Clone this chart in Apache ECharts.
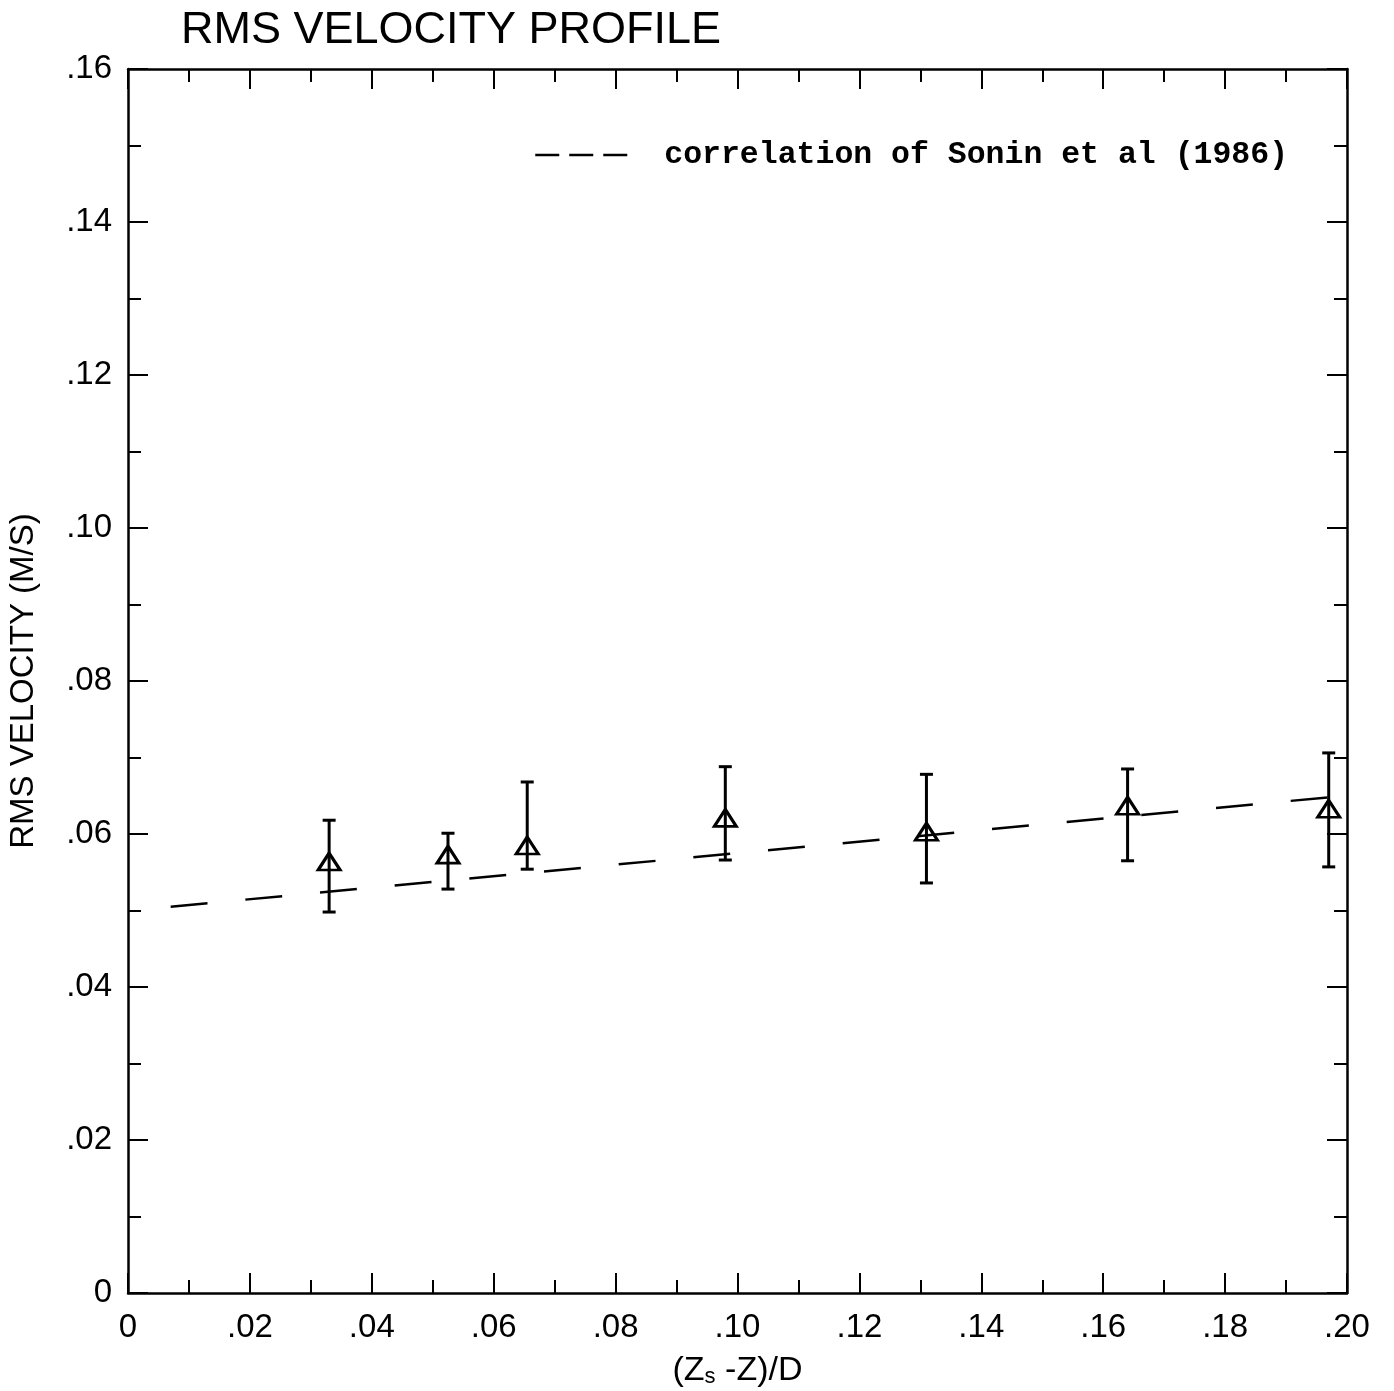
<!DOCTYPE html>
<html>
<head>
<meta charset="utf-8">
<script src="https://cdn.jsdelivr.net/npm/echarts@6/dist/echarts.min.js"></script>
<style>
  html, body { margin: 0; padding: 0; background: #fff; }
  #chart { width: 1394px; height: 1391px; }
</style>
</head>
<body>
<div id="chart"></div>
<script>
// Measured RMS velocity at each depth position
const depthRatio = [0.033, 0.0525, 0.0655, 0.098, 0.131, 0.164, 0.197];
const rmsMean    = [0.0564, 0.0573, 0.0585, 0.0621, 0.0603, 0.0637, 0.0633];
const rmsLow     = [0.0498, 0.0528, 0.0554, 0.0566, 0.0536, 0.0565, 0.0557];
const rmsHigh    = [0.0618, 0.0601, 0.0668, 0.0688, 0.0678, 0.0685, 0.0706];

// Correlation of Sonin et al (1986), end points of the straight line
const soninX = [0.007, 0.197];
const soninY = [0.0505, 0.0648];

const soninName = 'correlation of Sonin et al (1986)';
const titleText = 'RMS VELOCITY PROFILE';
const yName = 'RMS VELOCITY (M/S)';

const FONT = 'Liberation Sans';
const INK = '#000';

const tickLabel = v => (Math.abs(v) < 1e-9 ? '0' : v.toFixed(2).replace(/^0/, ''));

const axisCommon = {
  type: 'value',
  axisLine: { show: true, onZero: false, lineStyle: { color: INK, width: 2.5 } },
  axisTick: { show: true, inside: true, length: 20, lineStyle: { color: INK, width: 2 } },
  minorTick: { show: true, splitNumber: 2, length: 13, lineStyle: { color: INK, width: 2 } },
  splitLine: { show: false },
  minorSplitLine: { show: false }
};

const chart = echarts.init(document.getElementById('chart'), null, { renderer: 'canvas' });

chart.setOption({
  backgroundColor: '#fff',
  animation: false,
  title: {
    text: titleText,
    left: 176,
    top: 3,
    textStyle: { fontFamily: FONT, fontSize: 45, fontWeight: 'normal', color: INK }
  },
  legend: {
    data: [soninName],
    left: 529,
    top: 134,
    itemWidth: 92,
    itemHeight: 14,
    itemGap: 0,
    itemStyle: { color: 'rgba(0,0,0,0)', borderWidth: 0, opacity: 0 },
    lineStyle: { type: [24, 10], width: 2.5, color: INK, opacity: 1 },
    textStyle: {
      fontFamily: 'Liberation Mono', fontWeight: 'bold', fontSize: 31.5, color: INK,
      padding: [0, 0, 0, 32]
    }
  },
  grid: { left: 128, top: 69, width: 1219, height: 1224, outerBoundsMode: 'none', containLabel: false },
  xAxis: [
    Object.assign({}, axisCommon, {
      position: 'bottom',
      min: 0, max: 0.2, interval: 0.02,
      axisLabel: { show: true, margin: 18, formatter: tickLabel, fontFamily: FONT, fontSize: 33, color: INK },
      name: '{p|(Z}{s|s}{p| -Z)/D}',
      nameLocation: 'middle',
      nameGap: 60,
      nameTextStyle: {
        fontFamily: FONT,
        fontSize: 34,
        color: INK,
        rich: {
          p: { fontFamily: FONT, fontSize: 34, color: INK },
          s: { fontFamily: FONT, fontSize: 22, color: INK, verticalAlign: 'bottom', padding: [13, 0, 0, 0] }
        }
      }
    }),
    Object.assign({}, axisCommon, {
      position: 'top',
      min: 0, max: 0.2, interval: 0.02,
      axisLabel: { show: false }
    })
  ],
  yAxis: [
    Object.assign({}, axisCommon, {
      position: 'left',
      min: 0, max: 0.16, interval: 0.02,
      axisLabel: { show: true, margin: 16, formatter: tickLabel, fontFamily: FONT, fontSize: 33, color: INK },
      name: yName,
      nameLocation: 'middle',
      nameGap: 88,
      nameRotate: 90,
      nameTextStyle: { fontFamily: FONT, fontSize: 33, color: INK }
    }),
    Object.assign({}, axisCommon, {
      position: 'right',
      min: 0, max: 0.16, interval: 0.02,
      axisLabel: { show: false }
    })
  ],
  series: [
    {
      name: soninName,
      type: 'line',
      xAxisIndex: 0, yAxisIndex: 0,
      symbol: 'none',
      data: soninX.map((x, i) => [x, soninY[i]]),
      itemStyle: { color: INK },
      lineStyle: { color: INK, width: 2.5, type: [37, 38] },
      z: 2
    },
    {
      name: 'error',
      type: 'custom',
      xAxisIndex: 0, yAxisIndex: 0,
      data: depthRatio.map((x, i) => [x, rmsLow[i], rmsHigh[i]]),
      renderItem: function (params, api) {
        const lo = api.coord([api.value(0), api.value(1)]);
        const hi = api.coord([api.value(0), api.value(2)]);
        const half = 6.5;
        const style = { stroke: INK, lineWidth: 3, fill: null };
        return {
          type: 'group',
          children: [
            { type: 'line', shape: { x1: lo[0], y1: lo[1], x2: hi[0], y2: hi[1] }, style: style },
            { type: 'line', shape: { x1: hi[0] - half, y1: hi[1], x2: hi[0] + half, y2: hi[1] }, style: style },
            { type: 'line', shape: { x1: lo[0] - half, y1: lo[1], x2: lo[0] + half, y2: lo[1] }, style: style }
          ]
        };
      },
      z: 3
    },
    {
      name: 'measured',
      type: 'scatter',
      xAxisIndex: 0, yAxisIndex: 0,
      symbol: 'triangle',
      symbolSize: [22, 17],
      data: depthRatio.map((x, i) => [x, rmsMean[i]]),
      itemStyle: { color: 'rgba(0,0,0,0)', borderColor: INK, borderWidth: 3, opacity: 1 },
      z: 4
    }
  ]
});
</script>
</body>
</html>
